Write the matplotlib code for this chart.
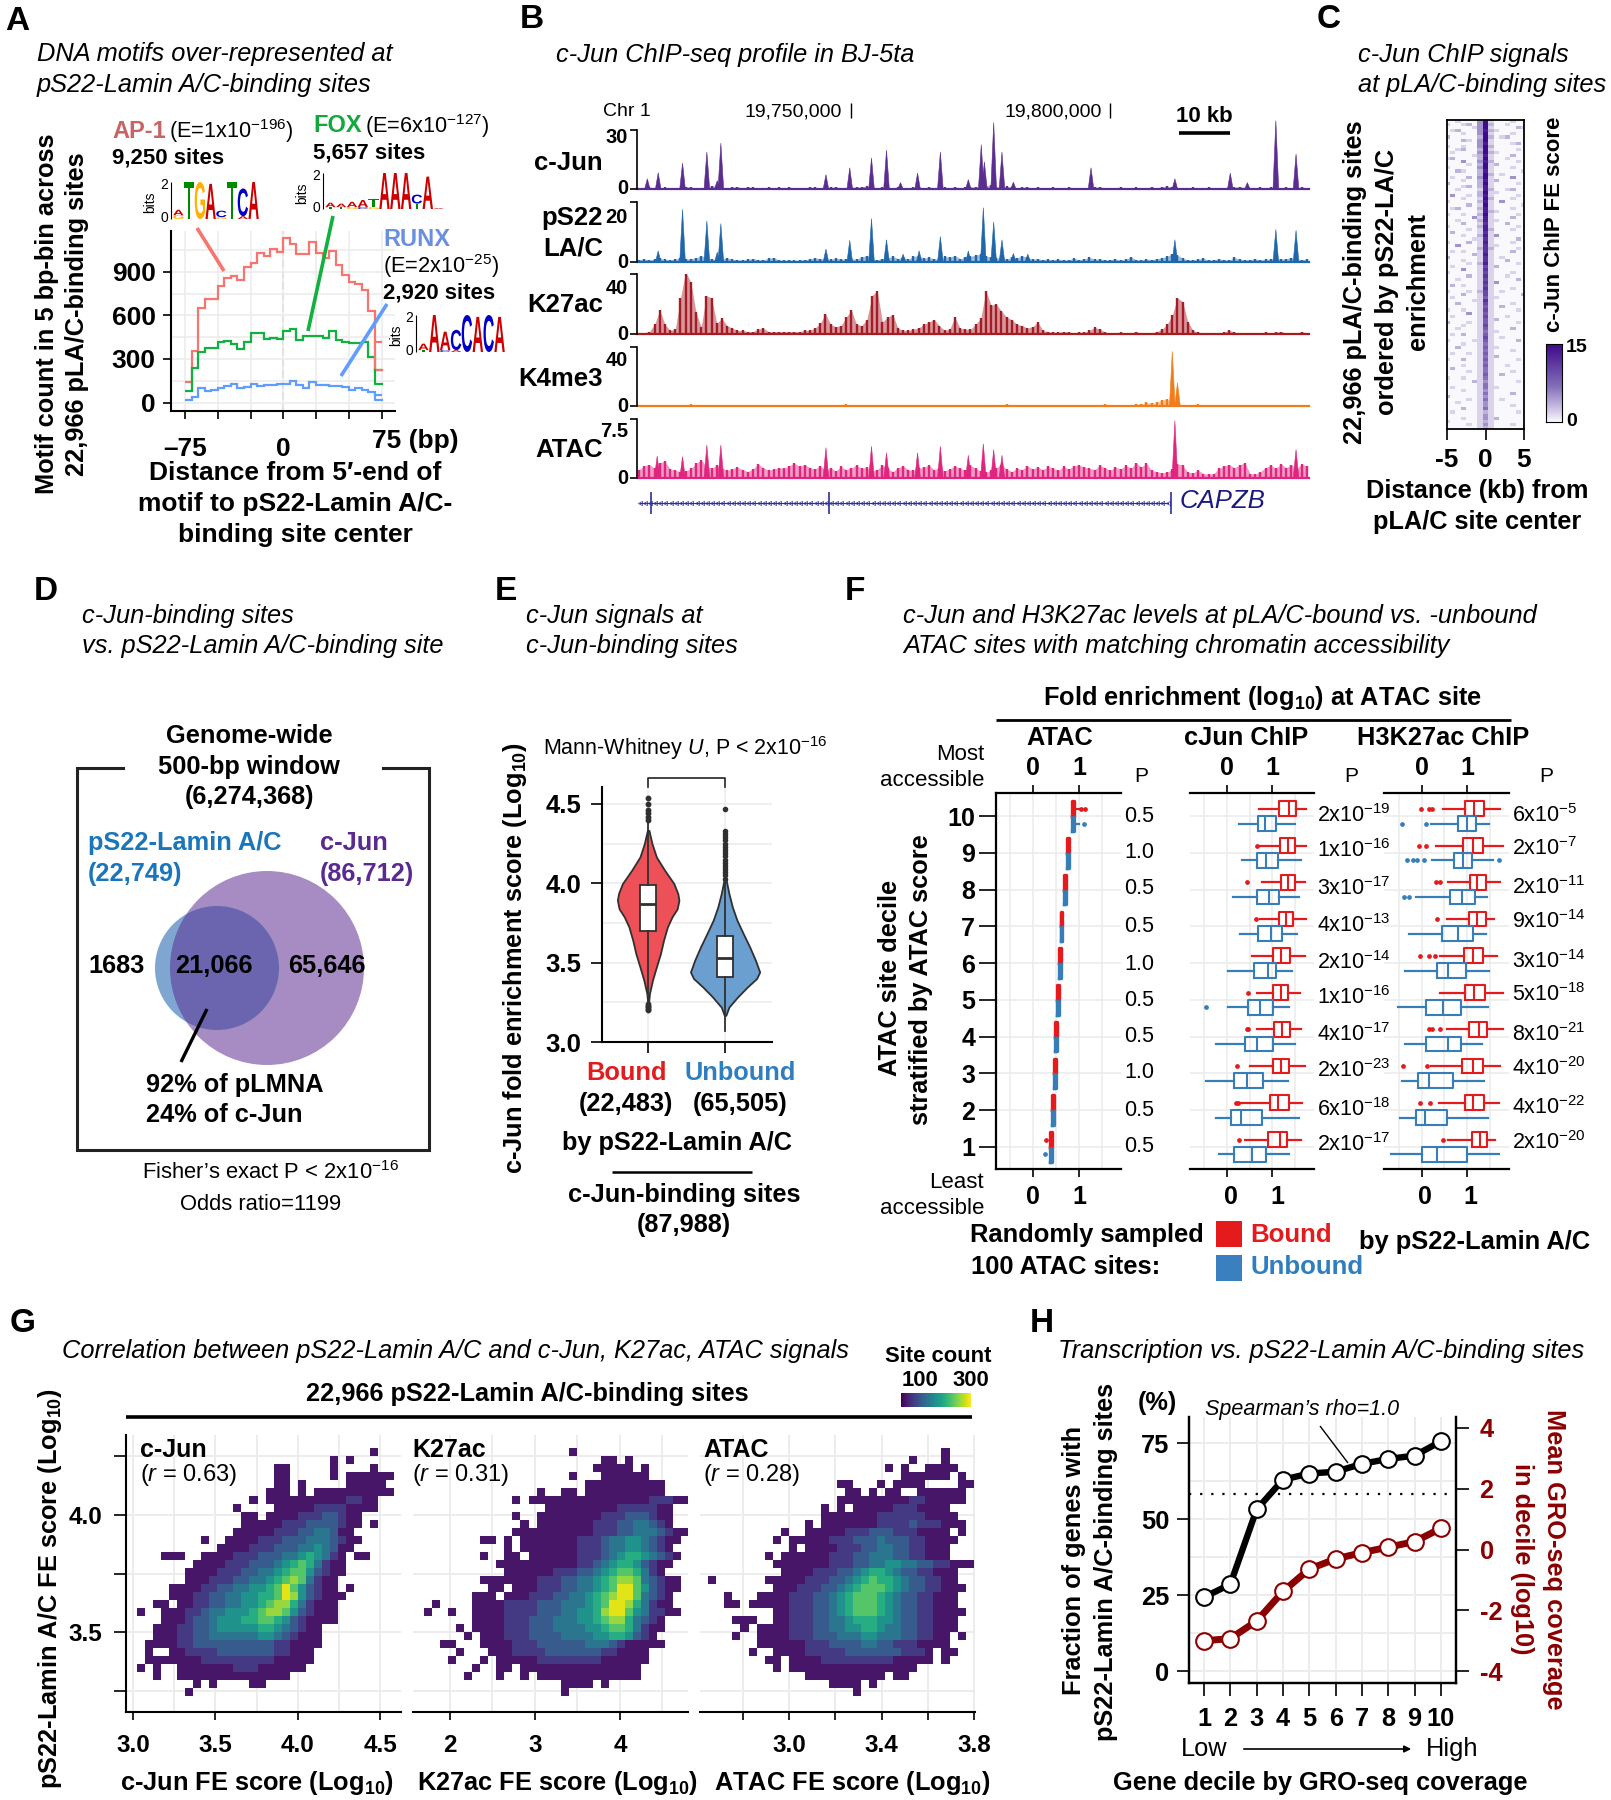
import numpy as np
import matplotlib
matplotlib.use('Agg')
import matplotlib.pyplot as plt
from matplotlib.colors import LinearSegmentedColormap
from matplotlib.patches import Circle, PathPatch, Rectangle
from matplotlib.textpath import TextPath
from matplotlib.font_manager import FontProperties
from matplotlib.transforms import Affine2D

plt.rcParams['font.family'] = ['Liberation Sans', 'DejaVu Sans']
plt.rcParams['mathtext.fontset'] = 'custom'
plt.rcParams['mathtext.rm'] = 'Liberation Sans'
plt.rcParams['mathtext.it'] = 'Liberation Sans:italic'
plt.rcParams['mathtext.bf'] = 'Liberation Sans:bold'
plt.rcParams['mathtext.default'] = 'regular'

# panel A
motif_x = [-75, -70, -65, -60, -55, -50, -45, -40, -35, -30, -25, -20, -15, -10, -5, 0, 5, 10, 15, 20, 25, 30, 35, 40, 45, 50, 55, 60, 65, 70, 75]
ap1 = [140, 355, 650, 710, 710, 805, 860, 870, 845, 930, 960, 1030, 1005, 1055, 1035, 1130, 1090, 1020, 1020, 1105, 1030, 995, 1045, 945, 880, 830, 815, 775, 630, 415, 225]
fox = [80, 240, 350, 375, 375, 420, 425, 400, 365, 420, 480, 480, 435, 445, 435, 495, 505, 430, 455, 460, 460, 445, 495, 430, 420, 410, 410, 415, 310, 225, 130]
runx = [17, 40, 100, 80, 85, 100, 115, 125, 100, 110, 125, 115, 120, 120, 125, 130, 145, 120, 100, 140, 120, 120, 115, 115, 110, 85, 100, 85, 75, 50, 20]

logo_ap1 = [[('G', .2), ('A', .3)], [('T', 2)], [('G', 2)], [('A', 1.9)], [('G', .1), ('C', .35)], [('T', 2)], [('A', .15), ('C', 1.5)], [('A', 2)]]
logo_fox = [[('T', .1), ('A', .25)], [('T', .1), ('A', .2)], [('G', .1), ('A', .3)], [('C', .1), ('A', .4)], [('G', .1), ('T', .45)], [('A', 2)], [('A', 2)], [('A', 2)], [('T', .3), ('C', .5)], [('A', 1.8)], [('A', .05)]]
logo_runx = [[('T', .1), ('A', .35)], [('A', 2)], [('C', .1), ('A', 1.0)], [('A', .1), ('C', 1.1)], [('C', 2)], [('A', 1.9)], [('C', 2)], [('A', 1.9)]]
logo_colors = {'A': '#cc0000', 'C': '#0000c8', 'G': '#ffb000', 'T': '#008a00'}

# panel B
cjun_peak_kb = [10.5, 12.6, 17.3, 22, 24, 24.7, 45, 49.6, 53.8, 56.7, 59.4, 62.7, 67.1, 72.5, 75, 75.6, 77.4, 79, 81.2, 96.2, 112.4, 123.1, 126.4, 131.9, 135.8]
cjun_peak_h = [5.4, 8.5, 13.4, 19, 4.5, 23.5, 7.5, 11, 16, 20, 3.5, 8.3, 19, 5, 22.7, 14, 34, 19, 3.7, 11, 5.4, 8.3, 3.5, 35, 18]
cjun_base = [.3, .5, .9, .7, .4, .8, .5, .3, .6, 1.2, .9, .5, .4, .8, 1.4, 1.6, .7, .5, .9, 1.1, .6, 1.0, .8, .6, .5, .9, .6, .8, .5, 1.0, .4, .7, .6, .9, .8, .5, .6, .9, 1.0, .7, .5, 1.0, .8, 1.2, 1.4, .6, .5, .8, .7, .5, .9, .6, .5, .8, 1.0, .6, .9, .7, .5, .8, .6, 1.0, .7, .8, 1.0, 1.1, .9, 1.5, 2.0, 1.2, 1.0, 1.4, 1.0, .7, .8, 1.0, .6, .9, .5, .7, .8, .5, .4, 1.0, .5, .7, .4, .6, .9, 1.1, .6, .5, .7, .9, .5, .6, .8, .5, .7, 1.0, .6, 1.1, 1.4, .9, .5, .7, .5, .8, .6, .4, .9, .6, .7, .5, 1.0, .9, 1.2, .7, .5, .6, .8, .5, .9, 1.1, .6, .8, .5, .7, 1.0, .6]
ps22_peak_kb = [12.6, 17.3, 22, 24, 24.7, 45, 49.6, 53.8, 56.7, 59.9, 63, 67.1, 72.5, 75.4, 77.4, 79, 81.2, 84, 112.4, 131.9, 135.8]
ps22_peak_h = [5, 23, 18, 4.4, 16.8, 5.8, 9.5, 19, 9.8, 3.6, 5, 11.2, 5, 23.7, 17.5, 9.8, 3.9, 3.6, 9.8, 14.3, 13.9]
ps22_base = [1.0, 1.3, .9, 1.2, 1.6, 1.1, .9, 1.3, 1.8, 1.2, 1.4, 1.8, 2.6, 2.2, 1.2, 1.0, 1.3, 1.7, 1.2, 1.0, .8, 1.1, 1.5, 1.0, .8, 1.7, 1.9, .9, .7, .9, .7, .8, 1.0, 1.3, 1.8, 1.5, 1.0, 1.2, 1.6, 1.4, 1.2, 1.5, 1.1, 2.2, 2.8, 1.3, 1.0, 1.4, 1.8, 2.4, 1.5, 2.0, 1.2, 2.4, 2.8, 1.6, 2.0, 1.4, 1.2, 2.4, 2.0, 2.8, 1.4, 2.0, 2.4, 3.0, 3.4, 2.6, 2.0, 1.8, 1.6, 1.3, 2.0, 1.8, 2.6, 2.0, 1.2, 1.4, 1.0, 1.2, .9, 1.3, .8, 1.0, 1.6, .9, 1.3, 2.0, 1.1, 1.4, .9, 1.0, 1.3, .8, 1.1, 2.2, 1.0, .8, 1.3, 1.0, 1.4, 1.8, 2.4, 3.6, 3.0, 1.6, 1.0, .9, 1.2, 1.6, .8, 1.0, 1.3, 1.0, .8, 2.0, 1.1, .9, 1.0, 1.4, .9, 1.1, 1.4, 1.7, 1.2, 1.5, 1.9, 1.3, .9, 1.3]
k27_base = [1, 1, 2, 8, 20, 8, 3, 4, 30, 52, 43, 18, 6, 32, 30, 9, 13, 7, 5, 3, 3, 2, 2, 4, 5, 2, 2, 2, 2, 2, 2, 2, 3, 3, 5, 9, 17, 8, 6, 7, 14, 20, 8, 7, 12, 32, 36, 10, 14, 16, 5, 3, 3, 4, 5, 8, 10, 12, 7, 3, 4, 14, 5, 4, 4, 8, 13, 36, 24, 25, 19, 14, 12, 8, 7, 5, 6, 10, 3, 2, 1.5, 1.5, 2, 1.5, 1, 1.5, 1.5, 3, 5.5, 4, 1.5, 1, 1, 1.5, 1, 1, 2, 1, 1, 1, 2, 4, 8, 16, 30, 27, 10, 3, 1.5, 1, 1, 1, 1, 1.5, 3, 1.5, 1, 1, 1, 1, 1, 1.5, 1, 1.5, 2, 1, 1, 1, 2, 1]
k4_base = [.3, .8, .4, .3, .5, .3, .7, .4, 1.2, .8, 1.4, .5, 1.2, .3, .4, .3, .5, 1.1, .4, .3, .3, .4, .3, .3, .9, .3, .3, .4, .3, .3, .3, .5, .3, .4, .3, .4, .3, .3, .3, .4, 1.4, .8, 1.0, .6, .3, .3, .4, .3, .3, .4, 1.0, .5, .8, .3, .3, .3, .4, .3, .3, .7, .3, .4, .3, .5, .3, .8, .4, 1.1, .6, .4, .3, 1.4, .5, .3, .4, .7, .3, .8, .3, .4, .3, .5, .3, .4, .3, .3, .5, .3, .7, .4, 1.8, .3, .4, .3, 1.2, .3, 2.0, 1.6, 3.0, 2.4, 3.0, 5.0, 6.0, 2.0, .3, .3, .4, .3, 1.3, .5, 1.2, 1.0, .5, .3, .3, .4, .3, .3, 1.0, .5, 1.2, .4, .8, .5, .4, .3, .7, .3, .5, .3]
atac_base = [1.3, 1.9, 2.1, 1.5, 2.4, 2.6, 1.4, 1.2, 1.0, 1.1, 1.5, 2.3, 2.8, 1.9, 1.5, 2.0, 1.6, 1.2, 1.4, 1.7, 1.3, 1.0, 1.4, 2.2, 1.6, 1.2, 1.4, 1.6, 1.5, 1.9, 2.3, 1.8, 2.1, 1.6, 1.4, 1.9, 1.2, 1.6, 1.1, 1.8, 1.3, 1.6, 2.0, 1.5, 1.7, 1.1, 1.3, 2.0, 1.5, 1.0, 1.6, 1.9, 1.3, 1.2, 1.5, 1.7, 2.0, 1.3, 1.6, 1.1, 1.4, 1.9, 1.5, 1.2, 2.0, 1.5, 1.1, .9, 1.2, 1.6, 2.1, 1.4, 1.0, 1.5, 1.3, 1.9, 1.4, 1.7, 1.3, 1.8, 1.5, 1.2, 1.8, 1.4, 1.9, 2.0, 1.7, 1.5, 1.3, 2.0, 1.6, 1.2, 1.7, 1.4, 2.0, 1.5, 2.4, 1.7, 2.3, 1.2, 1.0, .8, .9, 1.4, 2.2, 2.0, .9, .8, 1.2, .7, .6, .7, 1.5, 1.9, 2.1, 1.6, 2.0, 2.4, .7, .6, 1.0, 1.6, 2.0, 1.5, 2.2, 1.6, 2.1, 1.4, 2.2, 1.8]
atac_peak_kb = [12.4, 17.3, 22, 24.7, 45, 53.8, 56.7, 62.7, 67.1, 72.5, 75.4, 77.4, 79, 112.4, 135.8]
atac_peak_h = [3.5, 3.4, 5.2, 5.2, 4.8, 5, 4, 4, 5, 3.6, 5.4, 4.5, 3.6, 9, 4.5]
k4_peak_kb = [111.9, 112.9]
k4_peak_h = [46.6, 20]
exon_kb = [11.4, 45.6, 111.7]

# panel C, digits 0-9 are FE score bins, 100 rows x 15 columns
chip_rows = [
    '001000391000100', '100120392001000', '000001391000021', '012000382100000', '000100391000100',
    '200000292012000', '000210391000000', '000000381000120', '100100392000000', '001200291000010',
    '010000392100000', '000001281000200', '120000291001000', '000300382000010', '000010291200000',
    '100000391000100', '002100281000001', '000000292010000', '010020391000300', '000100281200000',
    '200000291000010', '000120281000000', '001000182001200', '000000291100000', '030010281000010',
    '000100192000100', '100000281030000', '000020191000001', '012000281000100', '000000182100000',
    '100100291000010', '000003181000200', '001000281100000', '000200171002000', '100000281000010',
    '000010182000100', '020000171000000', '000100281300000', '000001171000020', '100020181000100',
    '003000171100000', '000000272000010', '010100171000200', '000002181000000', '200000171010000',
    '000100171002000', '000010281000010', '010000161200000', '000300171000000', '100000161000100',
    '000020171001000', '001000161000020', '000000171300000', '020100161000000', '000000171000100',
    '100010261010000', '000200161000002', '010000151100000', '000001171000000', '002000161000100',
    '000000151020000', '100100161000010', '000030151000000', '010000161001000', '000000151200000',
    '200010151000010', '000100161000000', '001000151000200', '000000141100000', '010200151000000',
    '000000161010000', '100001151000020', '000100141000000', '002000151100000', '000000141000100',
    '010010151000000', '000000141200000', '100200151000010', '000000141000000', '000100151001000',
    '020000141000000', '000010141000100', '000000151020000', '100100141000000', '000002131000010',
    '000000141000000', '010000141100000', '000100131000000', '000000141000200', '200000131000000',
    '000010141010000', '001000131000000', '000000131000100', '000200141000000', '010000121000010',
    '000000131000000', '000100131200000', '100000121000000', '000010131000100', '000000121000000',
]

# panel D
venn_labels = ['1683', '21,066', '65,646']

# panel E
red_y = [4.334, 4.25, 4.166, 4.082, 3.998, 3.935, 3.893, 3.84, 3.788, 3.725, 3.641, 3.557, 3.473, 3.389, 3.305, 3.24]
red_w = [.01, .05, .107, .215, .335, .386, .40, .378, .31, .25, .20, .16, .107, .056, .017, .004]
blue_y = [4.03, 3.935, 3.85, 3.767, 3.683, 3.599, 3.515, 3.441, 3.40, 3.347, 3.284, 3.22, 3.168]
blue_w = [.01, .05, .095, .155, .236, .32, .395, .45, .41, .29, .163, .05, .01]
violin_box = [(3.25, 3.70, 3.87, 3.99, 4.39), (3.07, 3.41, 3.53, 3.67, 4.02)]
red_out = [4.54, 4.5, 4.46, 4.44, 4.42, 4.40, 3.24, 3.23, 3.22, 3.21, 3.20]
blue_out = [4.47, 4.33, 4.31, 4.29, 4.27, 4.25, 4.23, 4.21, 4.19, 4.17, 4.15, 4.13, 4.11, 4.09, 4.07, 4.05, 4.03]

# panel F, rows run decile 10 to 1: low whisker, q1, median, q3, high whisker
deciles = [10, 9, 8, 7, 6, 5, 4, 3, 2, 1]
atac_med = [.87, .76, .69, .62, .58, .54, .505, .47, .44, .40]
atac_out_bound = [[1.05, 1.14], [], [], [], [], [], [], [], [], [.29]]
atac_out_unbound = [[1.10], [], [], [], [], [], [], [], [], [.27]]
cjun_bound = [(.71, 1.16, 1.38, 1.54, 1.76), (.66, 1.17, 1.35, 1.51, 1.76), (.77, 1.19, 1.35, 1.51, 1.72), (.73, 1.16, 1.30, 1.46, 1.76), (.55, 1.03, 1.19, 1.40, 1.72),
              (.66, 1.03, 1.19, 1.35, 1.62), (.66, 1.05, 1.22, 1.40, 1.64), (.5, 1.01, 1.19, 1.38, 1.74), (.29, .96, 1.14, 1.37, 1.67), (.39, .90, 1.17, 1.33, 1.64)]
cjun_unbound = [(.27, .69, .85, 1.09, 1.51), (.34, .67, .87, 1.14, 1.65), (.13, .66, .93, 1.16, 1.59), (.29, .69, .98, 1.22, 1.56), (.02, .61, .90, 1.09, 1.44),
                (.02, .46, .73, 1.01, 1.38), (-.24, .41, .66, 1.01, 1.51), (-.46, .16, .45, .80, 1.35), (-.24, .10, .31, .77, 1.60), (-.17, .16, .55, .87, 1.38)]
cjun_out_bound = [[], [.66], [.45], [.64], [], [.46], [.46, .45], [.23], [.19, .24], [.27]]
cjun_out_unbound = [[], [], [], [], [], [-.46], [], [], [], []]
k27_bound = [(.46, .95, 1.16, 1.37, 1.73), (.32, .92, 1.13, 1.36, 1.79), (.58, 1.07, 1.23, 1.41, 1.73), (.55, 1.04, 1.21, 1.41, 1.60), (.39, .94, 1.13, 1.36, 1.67),
             (.41, .95, 1.16, 1.39, 1.79), (.55, 1.05, 1.26, 1.44, 1.79), (.2, .88, 1.13, 1.36, 1.73), (.37, .95, 1.13, 1.37, 1.71), (.57, 1.11, 1.28, 1.44, 1.63)]
k27_unbound = [(.2, .79, .99, 1.2, 1.49), (.23, .71, .92, 1.11, 1.58), (-.12, .62, .89, 1.18, 1.44), (-.29, .44, .79, 1.13, 1.42), (-.37, .34, .57, .97, 1.49),
               (-.53, .09, .47, .87, 1.46), (-.38, .09, .57, .86, 1.34), (-.45, -.08, .15, .68, 1.37), (-.48, -.12, .07, .55, 1.47), (-.69, 0, .34, .99, 1.71)]
k27_out_bound = [[-.03, .16, .23], [-.06, .09], [.32, .40], [.34], [-.05, .16, .28], [], [.16, .23, .39], [-.42, .11], [-.05, .18], [.47]]
k27_out_unbound = [[-.45, .09], [-.33, -.19, -.11, .04, 1.71], [-.4, -.29], [], [], [], [], [], [], []]
p_atac = ['0.5', '1.0', '0.5', '0.5', '1.0', '0.5', '0.5', '1.0', '0.5', '0.5']
p_cjun = ['2x10$^{-19}$', '1x10$^{-16}$', '3x10$^{-17}$', '4x10$^{-13}$', '2x10$^{-14}$', '1x10$^{-16}$', '4x10$^{-17}$', '2x10$^{-23}$', '6x10$^{-18}$', '2x10$^{-17}$']
p_k27 = ['6x10$^{-5}$', '2x10$^{-7}$', '2x10$^{-11}$', '9x10$^{-14}$', '3x10$^{-14}$', '5x10$^{-18}$', '8x10$^{-21}$', '4x10$^{-20}$', '4x10$^{-22}$', '2x10$^{-20}$']

# panel G, digit = density bin of the cell, '.' = no sites. Rows run top to bottom.
g_cjun = [
    '.............................1', '........................1.1', '.................11.....1....1', '.................11.....1.111111',
    '.................11.1.....11111', '................111.1.1111111111', '..............1.11111111112211', '............1....1111122221111',
    '.............11.111122233211', '.............111112223333211.1', '............111112223344311', '........1..11112223334443211',
    '..........11112223334454311', '...111..111122233344565421.11', '.......1111222333456764211', '......11112223344567753211',
    '......1112223344567874211', '....111122334455679753211.1', '....1112233445566798532111', '..11.11223344556788642111',
    '1..1112234455567887532111', '...1112334555667765321111', '..111223345555566543211', '..111223344444455432111',
    '.1111223333333333221111', '.1..112222333333322111', '.111111122222222211111', '1.1..1111111222111111',
    '..1..11111111111111', '.......1.1....11', '......1']
g_k27 = [
    '..................1', '......................11.1', '.....................11111.1', '..................1...111111',
    '....................1111111111', '..............1..11.1111111111', '...........1.11111111111111122211', '...............1111111112222211',
    '...........1..11111111222333211', '............1.11111112223344321', '...........1111111111222334443211', '.......11.1.11111112223445543211',
    '..........1.1111111222344554321', '.......1..11.1111112223456654321', '.........1111111111223456653211', '..........11111122233456776421',
    '.......1111111222334456788743211', '........11.111222334456799753211', '......111.111222334456789974321', '.1....1111222233344456799864211',
    '1..1..11112222333445568997542211', '......111122233344455678864321', '....1.111122233344445567764211', '.....1.1112223333444455665321',
    '..11...11112223333334443211111', '....1...11122223333333221111', '...1...1.1111122222222111111', '......1..11.111111111111111',
    '.....1...1..1.1111111111111', '.................1111.1', '.................1']
g_atac = [
    '.............................1', '.........................1...1', '......................1.1..1111', '........................111111.1',
    '................11...1.1111....11', '.................11.1.11..111111', '................1111111112211111', '..............1.1.111112221111',
    '..............11111112222221111', '............1.111111122223222111', '.........1..111112223332221111.1', '........1.111112223334333221111',
    '..........1.111122233443322111', '.......1.111111222334443322111', '........1111111222334455443322111', '.........1111222334566543322111',
    '1......11111222334567665433221 1'.replace(' ', ''), '........11122233456777654332 2111'.replace(' ', ''), '..1...1111222334567776543322111', '..11.1111122233456777654332 2111'.replace(' ', ''),
    '........112223345677765433221111', '...111..11222334456665543322111', '....1.1111222334455665443322111', '...1..111122233344455444332211.1',
    '......111111222333344332221111', '.....1..11112222233333332221.11', '.......11.111122222222211111.1', '........1.1111111111111111',
    '............1111111111.11', '...............1111.1', '..................1']
g_title = ['c-Jun', 'K27ac', 'ATAC']
g_r = ['($\\mathit{r}$ = 0.63)', '($\\mathit{r}$ = 0.31)', '($\\mathit{r}$ = 0.28)']

# panel H
decile_x = [1, 2, 3, 4, 5, 6, 7, 8, 9, 10]
frac_genes = [24.3, 28.6, 53.2, 63, 65, 65.6, 68.2, 69.8, 70.9, 75.6]
gro_cov = [-3.0, -2.93, -2.35, -1.38, -.64, -.31, -.1, .08, .26, .7]
genome_frac = 58.3

W, H = 1611, 1800
fig = plt.figure(figsize=(W / 100, H / 100), dpi=100)
GRID = '#ececec'
RED = '#e41a1c'
BLUE = '#377eb8'


def box(l, t, r, b):
    return fig.add_axes([l / W, 1 - b / H, (r - l) / W, (b - t) / H])


ov = fig.add_axes([0, 0, 1, 1], zorder=20)
ov.set_xlim(0, W)
ov.set_ylim(H, 0)
ov.axis('off')


def T(x, y, s, size=18.3, weight='bold', ha='center', va='center', rot=0, color='k', style='normal'):
    ov.text(x, y + 2, s, fontsize=size, fontweight=weight, ha=ha, va=va, rotation=rot, color=color, fontstyle=style)


def L(x0, y0, x1, y1, color='k', lw=2.0, **kw):
    ov.plot([x0, x1], [y0, y1], color=color, lw=lw, solid_capstyle='butt', **kw)


def spines(ax, sides, lw=1.5):
    for k, s in ax.spines.items():
        s.set_visible(k in sides)
        s.set_linewidth(lw)


def bold_ticks(ax, size=16):
    for t in ax.get_xticklabels() + ax.get_yticklabels():
        t.set_fontweight('bold')
        t.set_fontsize(size)


def draw_logo(ax, cols):
    fp = FontProperties(family='Liberation Sans', weight='bold')
    for i, col in enumerate(cols):
        y0 = 0
        for letter, h in col:
            tp = TextPath((0, 0), letter, size=1, prop=fp)
            e = tp.get_extents()
            tr = Affine2D().translate(-e.x0, -e.y0).scale(.96 / e.width, h / e.height).translate(i + .02, y0)
            ax.add_patch(PathPatch(tp, transform=tr + ax.transData, fc=logo_colors[letter], ec='none'))
            y0 += h
    ax.set_xlim(0, len(cols))
    ax.set_ylim(0, 2)
    ax.axis('off')


# ---- panel labels and titles
for s, x, y in [('A', 17, 19), ('B', 532, 18), ('C', 1329, 18), ('D', 46, 589), ('E', 506, 589), ('F', 855, 589), ('G', 23, 1322), ('H', 1042, 1322)]:
    T(x, y, s, size=24)
for x, y, s in [(37, 52, 'DNA motifs over-represented at'), (37, 83, 'pS22-Lamin A/C-binding sites'), (556, 53, 'c-Jun ChIP-seq profile in BJ-5ta'),
                (1358, 53, 'c-Jun ChIP signals'), (1358, 83, 'at pLA/C-binding sites'), (82, 614, 'c-Jun-binding sites'), (82, 644, 'vs. pS22-Lamin A/C-binding site'),
                (526, 614, 'c-Jun signals at'), (526, 644, 'c-Jun-binding sites'), (903, 614, 'c-Jun and H3K27ac levels at pLA/C-bound vs. -unbound'),
                (903, 644, 'ATAC sites with matching chromatin accessibility'), (62, 1349, 'Correlation between pS22-Lamin A/C and c-Jun, K27ac, ATAC signals'),
                (1058, 1349, 'Transcription vs. pS22-Lamin A/C-binding sites')]:
    T(x, y, s, size=18.3, weight='normal', ha='left', style='italic')

# ---- panel A
a = box(171, 231, 395, 411)
a.stairs(ap1[:-1], motif_x, baseline=None, color='#f8756f', lw=1.6)
a.stairs(fox[:-1], motif_x, baseline=None, color='#12b03e', lw=1.6)
a.stairs(runx[:-1], motif_x, baseline=None, color='#619cff', lw=1.6)
a.plot(motif_x[-2:], [ap1[-2], ap1[-1]], color='#f8756f', lw=1.6, drawstyle='steps-pre')
a.plot(motif_x[-2:], [fox[-2], fox[-1]], color='#12b03e', lw=1.6, drawstyle='steps-pre')
a.plot(motif_x[-2:], [runx[-2], runx[-1]], color='#619cff', lw=1.6, drawstyle='steps-pre')
a.axvline(0, color='#bbbbbb', lw=1.5, ls='--', zorder=0)
a.set_xlim(-85.7, 85.3)
a.set_ylim(-58, 1180)
a.set_xticks([-75, -50, -25, 0, 25, 50, 75], ['\u201375', '', '', '0', '', '', ''])
a.set_yticks([0, 300, 600, 900])
a.set_yticks([150, 450, 750, 1050], minor=True)
a.tick_params(axis='y', which='minor', length=0)
a.grid(True, which='both', color=GRID, lw=1.2)
a.set_axisbelow(True)
a.tick_params(length=6, width=1.2, pad=5)
a.tick_params(axis='x', pad=13)
bold_ticks(a, 19)
spines(a, ['left', 'bottom'])
T(372, 439, '75 (bp)', size=19, ha='left')
for i, s in enumerate(['Motif count in 5 bp-bin across', '22,966 pLA/C-binding sites']):
    T(47 + 30 * i, 312, s, rot=90)
for i, s in enumerate(['Distance from 5\u2032-end of', 'motif to pS22-Lamin A/C-', 'binding site center']):
    T(295, 471 + 31 * i, s, size=19)
T(112, 129, 'AP-1', color='#c96464', ha='left', size=17)
T(169, 129, '(E=1x10$^{-196}$)', weight='normal', ha='left', size=15.7)
T(112, 156, '9,250 sites', ha='left', size=16)
T(313, 124, 'FOX', color='#12a83c', ha='left', size=17)
T(365, 124, '(E=6x10$^{-127}$)', weight='normal', ha='left', size=15.7)
T(313, 151, '5,657 sites', ha='left', size=16)
T(383, 237, 'RUNX', color='#6b8fe0', ha='left', size=17)
T(383, 264, '(E=2x10$^{-25}$)', weight='normal', ha='left', size=15.7)
T(383, 291, '2,920 sites', ha='left', size=16)
L(197, 228, 224, 271, color='#f8756f', lw=2.6)
L(333, 216, 308, 331, color='#12b03e', lw=2.6)
L(387, 304, 341, 376, color='#619cff', lw=2.6)
for cols, ext, bx in [(logo_ap1, (173, 182, 259, 219), 150), (logo_fox, (325, 173, 444, 209), 302), (logo_runx, (418, 315, 505, 352), 396)]:
    draw_logo(box(*ext), cols)
    l, t, r, b = ext
    T(bx, (t + b) / 2, 'bits', size=10, weight='normal', rot=90)
    T(l - 9, t + 1, '2', size=10, weight='normal')
    T(l - 9, b - 3, '0', size=10, weight='normal')
    L(l - 2, t, l - 2, b, lw=.8)

# ---- panel B
tracks = [(130, 189, 30, '#5b2d90', cjun_base, cjun_peak_kb, cjun_peak_h, '30', 27),
          (202, 262, 26, '#1f66ab', ps22_base, ps22_peak_kb, ps22_peak_h, '20', 20),
          (274, 334, 50, '#a51c24', k27_base, [], [], '40', 40),
          (347, 406, 50, '#f07d1a', k4_base, k4_peak_kb, k4_peak_h, '40', 40),
          (419, 478, 9.2, '#e0257f', atac_base, atac_peak_kb, atac_peak_h, '7.5', 7.5)]
for t, b, top, c, base, pk, ph, lab, labv in tracks:
    ax = box(637, t, 1309, b)
    x = np.arange(len(base)) + 9
    ax.fill_between(x, base, color=c, lw=0, alpha=.45)
    ax.vlines(x, 0, base, color=c, lw=1.7)
    ax.axhline(0, color=c, lw=1.6, clip_on=False)
    for k, h in zip(pk, ph):
        ax.fill_between([k - .55, k, k + .55], [0, h, 0], color=c, lw=.4, clip_on=False)
    ax.set_xlim(8.6, 138.4)
    ax.set_ylim(0, top)
    ax.set_xticks([])
    ax.set_yticks([0, top], ['', ''])
    ax.tick_params(length=5, width=1.2)
    ax.patch.set_alpha(0)
    spines(ax, ['left'], lw=1.2)
    ax.spines['left'].set_bounds(0, top)
    T(628, b - (b - t) * labv / top, lab, size=14.5, ha='right')
    T(628, b - 2, '0', size=14.5, ha='right')
for y, s in [(161, 'c-Jun'), (216, 'pS22'), (247, 'LA/C'), (303, 'K27ac'), (377, 'K4me3'), (448, 'ATAC')]:
    T(603, y, s, ha='right', size=18.5)
g = box(637, 490, 1309, 516)
g.plot(np.arange(9.1, 111.7, 1.0), [0] * len(np.arange(9.1, 111.7, 1.0)), color='#2e2e9e', lw=.8, marker='<', ms=3, mfc='none', mew=.5)
g.vlines(exon_kb, -1, 1, color='#2e2e9e', lw=1.2)
g.set_xlim(8.6, 138.4)
g.set_ylim(-1.2, 1.2)
g.axis('off')
T(1180, 499, 'CAPZB', color='#1a1a80', style='italic', weight='normal', ha='left', size=18.5)
T(627, 110, 'Chr 1', weight='normal', size=14)
T(842, 110, '19,750,000', weight='normal', ha='right', size=14)
L(851, 103, 851, 118, lw=1)
T(1102, 110, '19,800,000', weight='normal', ha='right', size=14)
L(1110, 103, 1110, 118, lw=1)
T(1204, 115, '10 kb', size=16)
L(1179, 133, 1230, 133, lw=2.6)

# ---- panel C
chip = np.array([[int(d) for d in r] for r in chip_rows], dtype=float) / 9 * 15
purp = LinearSegmentedColormap.from_list('purp', [(0, '#f9f8fc'), (.12, '#d8d0ea'), (.45, '#8570ba'), (1, '#3f0a8c')])
c = box(1447, 120, 1524, 429)
c.imshow(chip, aspect='auto', cmap=purp, vmin=0, vmax=15, interpolation='nearest', extent=[-5.35, 5.35, 0, 1])
c.set_xlim(-5, 5)
c.set_xticks([-5, 0, 5], ['-5', '0', '5'])
c.set_yticks([])
c.tick_params(length=8, width=1.2, pad=6)
bold_ticks(c, 19)
spines(c, ['left', 'right', 'top', 'bottom'], lw=1.3)
cb = box(1546, 344, 1562, 422)
cb.imshow(np.linspace(15, 0, 100).reshape(-1, 1), aspect='auto', cmap=purp, vmin=0, vmax=15)
cb.set_xticks([])
cb.set_yticks([])
spines(cb, ['left', 'right', 'top', 'bottom'], lw=.8)
T(1566, 345, '15', size=14, ha='left')
T(1566, 419, '0', size=14, ha='left')
T(1555, 222, 'c-Jun ChIP FE score', rot=90, size=16)
for i, (x, s) in enumerate([(1355, '22,966 pLA/C-binding sites'), (1387, 'ordered by pS22-LA/C'), (1418, 'enrichment')]):
    T(x, 280, s, rot=90)
T(1477, 489, 'Distance (kb) from')
T(1477, 520, 'pLA/C site center')

# ---- panel D
ov.add_patch(Circle((267, 968), 97, fc='#a78cc4', ec='none'))
ov.add_patch(Circle((217, 968), 62, fc='#7fa6d0', ec='none'))
overlap = Circle((217, 968), 62, fc='#6a65ae', ec='none')
ov.add_patch(overlap)
overlap.set_clip_path(Circle((267, 968), 97, transform=ov.transData))
ov.plot([123, 77, 77, 429, 429, 383], [768, 768, 1150, 1150, 768, 768], color='#222222', lw=2.2, solid_joinstyle='miter')
L(207, 1009, 181, 1062, lw=2.4)
T(249, 734, 'Genome-wide')
T(249, 765, '500-bp window')
T(249, 795, '(6,274,368)')
T(88, 841, 'pS22-Lamin A/C', color='#1a75bb', ha='left')
T(88, 872, '(22,749)', color='#1a75bb', ha='left')
T(320, 841, 'c-Jun', color='#5b2a90', ha='left')
T(320, 872, '(86,712)', color='#5b2a90', ha='left')
for x, s in zip([116, 214, 327], venn_labels):
    T(x, 964, s)
T(146, 1083, '92% of pLMNA', ha='left')
T(146, 1113, '24% of c-Jun', ha='left')
T(270, 1171, "Fisher\u2019s exact P < 2x10$^{-16}$", weight='normal', size=15.8)
T(261, 1203, 'Odds ratio=1199', weight='normal', size=15.8)

# ---- panel E
e = box(602, 787, 772, 1042)
for pos, yy, ww, col in [(1, red_y, red_w, '#ee5058'), (2, blue_y, blue_w, '#6a9fd0')]:
    e.fill_betweenx(yy, pos - np.array(ww), pos + np.array(ww), color=col, ec='#303030', lw=1.3, zorder=2)
e.bxp([{'whislo': s[0], 'q1': s[1], 'med': s[2], 'q3': s[3], 'whishi': s[4], 'fliers': []} for s in violin_box], positions=[1, 2], widths=.2,
      showcaps=False, patch_artist=True, zorder=3, boxprops={'facecolor': 'white', 'edgecolor': '#303030', 'linewidth': 1.3},
      medianprops={'color': '#303030', 'linewidth': 2}, whiskerprops={'color': '#303030', 'linewidth': 1.3})
e.plot([1] * len(red_out), red_out, 'o', color='#303030', ms=3.2, zorder=3)
e.plot([2] * len(blue_out), blue_out, 'o', color='#303030', ms=3, zorder=3)
e.set_xlim(.40, 2.61)
e.set_ylim(3, 4.607)
e.set_xticks([1, 2], ['', ''])
e.set_yticks([3, 3.5, 4, 4.5], ['3.0', '3.5', '4.0', '4.5'])
e.set_yticks([3.25, 3.75, 4.25], minor=True)
e.tick_params(axis='y', which='minor', length=0)
e.grid(True, which='both', color=GRID, lw=1.2)
e.set_axisbelow(True)
e.tick_params(length=8, width=1.2, pad=7)
bold_ticks(e, 18.5)
spines(e, ['left', 'bottom'])
ov.plot([648, 648, 725, 725], [787, 778, 778, 787], color='#222222', lw=1.2)
T(543, 746, 'Mann-Whitney $\\mathit{U}$, P < 2x10$^{-16}$', weight='normal', ha='left', size=15.5)
T(515, 956, 'c-Jun fold enrichment score (Log$_{10}$)', rot=90)
T(626, 1071, 'Bound', color=RED)
T(740, 1071, 'Unbound', color='#2f7ec0')
T(626, 1102, '(22,483)')
T(740, 1102, '(65,505)')
T(677, 1141, 'by pS22-Lamin A/C')
L(612, 1172, 752, 1172, lw=1.8)
T(684, 1193, 'c-Jun-binding sites')
T(684, 1223, '(87,988)')

# ---- panel F
T(1263, 696, 'Fold enrichment (log$_{10}$) at ATAC site')
L(996, 720, 1511, 720, lw=2)


def stats(rows, outs):
    return [{'whislo': s[0], 'q1': s[1], 'med': s[2], 'q3': s[3], 'whishi': s[4], 'fliers': o} for s, o in zip(rows, outs)]


atac_rows = [(m - .02, m - .02, m, m + .02, m + .02) for m in atac_med]
atac_rows[0] = (.85, .85, .87, .89, .99)
atac_rows[9] = (.38, .38, .40, .42, .42)
panels = [(996, 1121, -.80, 1.91, atac_rows, atac_rows, atac_out_bound, atac_out_unbound, 'ATAC', 1060, 1033, 1079),
          (1190, 1314, -.82, 1.93, cjun_bound, cjun_unbound, cjun_out_bound, cjun_out_unbound, 'cJun ChIP', 1246, 1231, 1277),
          (1384, 1509, -.84, 1.93, k27_bound, k27_unbound, k27_out_bound, k27_out_unbound, 'H3K27ac ChIP', 1443, 1425, 1470)]
for n, (l, r, x0, x1, rb, ru, ob, ou, head, hx, b0, b1) in enumerate(panels):
    ax = box(l, 793, r, 1169)
    lw = 2.4 if n == 0 else 1.5
    for rows, outs, off, col in [(rb, ob, .2, RED), (ru, ou, -.2, BLUE)]:
        ax.bxp(stats(rows, outs), positions=[d + off for d in deciles], widths=.4, orientation='horizontal', showcaps=False, manage_ticks=False,
               boxprops={'color': col, 'linewidth': lw}, medianprops={'color': col, 'linewidth': lw}, whiskerprops={'color': col, 'linewidth': 1.6},
               flierprops={'marker': 'o', 'ms': 2.4, 'mfc': col, 'mec': col})
    ax.set_xlim(x0, x1)
    ax.set_ylim(.40, 10.63)
    ax.set_xticks([0, 1], ['', ''])
    ax.set_xticks([-.5, .5, 1.5], minor=True)
    ax.tick_params(axis='x', which='both', top=True, bottom=True, length=6, width=1.2)
    ax.tick_params(axis='x', which='minor', length=0)
    ax.set_yticks(deciles, [str(d) for d in deciles] if n == 0 else [''] * 10)
    ax.tick_params(axis='y', length=12 if n == 0 else 0, width=1.2, pad=3)
    ax.grid(True, which='both', color=GRID, lw=1.2)
    ax.set_axisbelow(True)
    bold_ticks(ax, 18)
    spines(ax, ['top', 'bottom', 'left'] if n == 0 else ['top', 'bottom'], lw=1.6)
    T(hx, 736, head, size=18.3)
    x0t = l + (0 - x0) / (x1 - x0) * (r - l)
    x1t = l + (1 - x0) / (x1 - x0) * (r - l)
    T(x0t, 766, '0', size=18)
    T(x1t, 766, '1', size=18)
    T(b0 if n else x0t, 1195, '0', size=18)
    T(b1 if n else x1t, 1195, '1', size=18)
for x, y in [(1141, 775), (1351, 775), (1546, 775)]:
    T(x, y, 'P', weight='normal', size=15)
for y, s in zip([815, 850, 887, 925, 962, 998, 1034, 1071, 1109, 1145], p_atac):
    T(1139, y, s, weight='normal', size=15.5)
for y, s in zip([814, 849, 887, 924, 961, 996, 1033, 1069, 1108, 1143], p_cjun):
    T(1317, y, s, weight='normal', ha='left', size=15.5)
for y, s in zip([814, 847, 886, 920, 960, 993, 1033, 1067, 1106, 1141], p_k27):
    T(1512, y, s, weight='normal', ha='left', size=15.5)
T(984, 752, 'Most', weight='normal', ha='right', size=16)
T(984, 779, 'accessible', weight='normal', ha='right', size=16)
T(984, 1180, 'Least', weight='normal', ha='right', size=16)
T(984, 1206, 'accessible', weight='normal', ha='right', size=16)
T(890, 976, 'ATAC site decile', rot=90)
T(921, 978, 'stratified by ATAC score', rot=90)
T(1087, 1233, 'Randomly sampled', size=18.4)
T(971, 1265, '100 ATAC sites:', size=18.4, ha='left')
ov.add_patch(Rectangle((1216, 1221), 26, 26, fc=RED, ec='none'))
ov.add_patch(Rectangle((1216, 1255), 26, 26, fc='#3a7fc0', ec='none'))
T(1250, 1233, 'Bound', color=RED, ha='left', size=18.6)
T(1250, 1265, 'Unbound', color='#2f7ec0', ha='left', size=18.6)
T(1359, 1240, 'by pS22-Lamin A/C', ha='left', size=18.4)

# ---- panel G
g_axes = [(126, 401, 2.9575, 4.627, g_cjun, 3.024, .0488, [3, 3.5, 4, 4.5], ['3.0', '3.5', '4.0', '4.5'], [3.25, 3.75, 4.25], 'c-Jun'),
          (413, 688, 1.565, 4.80, g_k27, 1.694, .0946, [2, 3, 4], ['2', '3', '4'], [2.5, 3.5, 4.5], 'K27ac'),
          (700, 975, 2.616, 3.803, g_atac, 2.652, .0347, [3.0, 3.4, 3.8], ['3.0', '3.4', '3.8'], [2.8, 3.2, 3.6], 'ATAC')]
y_top, cell_h = 4.285, .0341
for n, (l, r, x0, x1, rows, cx0, cw, xt, xl, xm, name) in enumerate(g_axes):
    ax = box(l, 1435, r, 1712)
    ncol = max(len(s) for s in rows)
    m = np.full((len(rows), ncol), np.nan)
    for i, s in enumerate(rows):
        for j, ch in enumerate(s):
            if ch != '.':
                m[i, j] = int(ch) * 36 - 18
    xe = cx0 + cw * np.arange(ncol + 1)
    ye = y_top - cell_h * np.arange(len(rows) + 1)
    ax.pcolormesh(xe, ye, np.ma.masked_invalid(m), cmap='viridis', vmin=0, vmax=320, zorder=2)
    ax.set_xlim(x0, x1)
    ax.set_ylim(3.159, 4.341)
    ax.set_xticks(xt, xl)
    ax.set_xticks(xm, minor=True)
    ax.tick_params(axis='x', which='minor', length=0 if n < 2 else 6, width=1.2)
    ax.set_yticks([3.5, 4.0], ['3.5', '4.0'] if n == 0 else ['', ''])
    ax.set_yticks([3.25, 3.75, 4.25], minor=True)
    ax.tick_params(axis='y', which='both', length=9 if n == 0 else 0, width=1.2, pad=8)
    ax.tick_params(axis='x', length=6, width=1.2, pad=10)
    ax.grid(True, which='both', color=GRID, lw=1.4, zorder=0)
    ax.set_axisbelow(True)
    bold_ticks(ax, 17.5)
    spines(ax, ['left', 'bottom'] if n == 0 else ['bottom'], lw=1.5)
    tx = [140, 412, 703][n]
    T(tx, 1448, g_title[n], ha='left', size=18)
    T(tx, 1473, g_r[n], ha='left', weight='normal', size=17)
    lx = [257, 557, 852][n]
    T(lx, 1781, name + ' FE score (Log$_{10}$)', size=18.3)
T(527, 1392, '22,966 pS22-Lamin A/C-binding sites', size=18.3)
L(126, 1417, 972, 1417, lw=2.6)
T(50, 1587, 'pS22-Lamin A/C FE score (Log$_{10}$)', rot=90)
T(938, 1355, 'Site count', size=15.8)
T(920, 1378, '100', size=15.8)
T(971, 1378, '300', size=15.8)
cb = box(901, 1393, 971, 1407)
cb.imshow(np.linspace(0, 1, 100).reshape(1, -1), aspect='auto', cmap='viridis')
cb.axis('off')

# ---- panel H
h = box(1189, 1417, 1456, 1683)
h.plot(decile_x, frac_genes, color='k', lw=4.6, marker='o', ms=12, mfc='white', mec='k', mew=1.5, zorder=4, clip_on=False)
h.axhline(genome_frac, color='k', ls=(0, (1, 4)), lw=1.6)
h.set_xlim(.43, 10.57)
h.set_ylim(-3.9, 83.6)
h.set_xticks(decile_x)
h.set_yticks([0, 25, 50, 75])
h.set_yticks([12.5, 37.5, 62.5], minor=True)
h.tick_params(axis='y', which='minor', length=0)
h.grid(True, which='both', color=GRID, lw=1.4)
h.set_axisbelow(True)
h.tick_params(length=9, width=1.2, pad=5)
h.tick_params(axis='x', pad=8)
bold_ticks(h, 18.3)
spines(h, ['left', 'bottom', 'right'], lw=1.6)
h2 = h.twinx()
h2.plot(decile_x, gro_cov, color='#8b0000', lw=5, marker='o', ms=12, mfc='white', mec='#8b0000', mew=1.5, zorder=4, clip_on=False)
h2.set_ylim(-4.39, 4.36)
h2.set_yticks([-4, -2, 0, 2, 4], ['-4', '-2', '0', '2', '4'])
h2.tick_params(length=9, width=1.2, labelcolor='#8b0000', pad=8)
bold_ticks(h2, 18.3)
spines(h2, ['left', 'bottom', 'right'], lw=1.6)
T(1157, 1401, '(%)', size=18.3)
T(1205, 1408, 'Spearman\u2019s rho=1.0', weight='normal', ha='left', size=15.5, style='italic')
L(1320, 1426, 1348, 1463, lw=1)
T(1204, 1747, 'Low', weight='normal', size=18.3)
T(1452, 1747, 'High', weight='normal', size=18.3)
ov.annotate('', xy=(1414, 1749), xytext=(1241, 1749), arrowprops={'arrowstyle': '-|>', 'color': 'k', 'lw': 1.2})
T(1320, 1781, 'Gene decile by GRO-seq coverage')
T(1074, 1558, 'Fraction of genes with', rot=90)
T(1106, 1560, 'pS22-Lamin A/C-binding sites', rot=90)
T(1554, 1557, 'Mean GRO-seq coverage', rot=270, color='#8b0000')
T(1522, 1557, 'in decile (log10)', rot=270, color='#8b0000')

fig.savefig('out.png', dpi=100)
